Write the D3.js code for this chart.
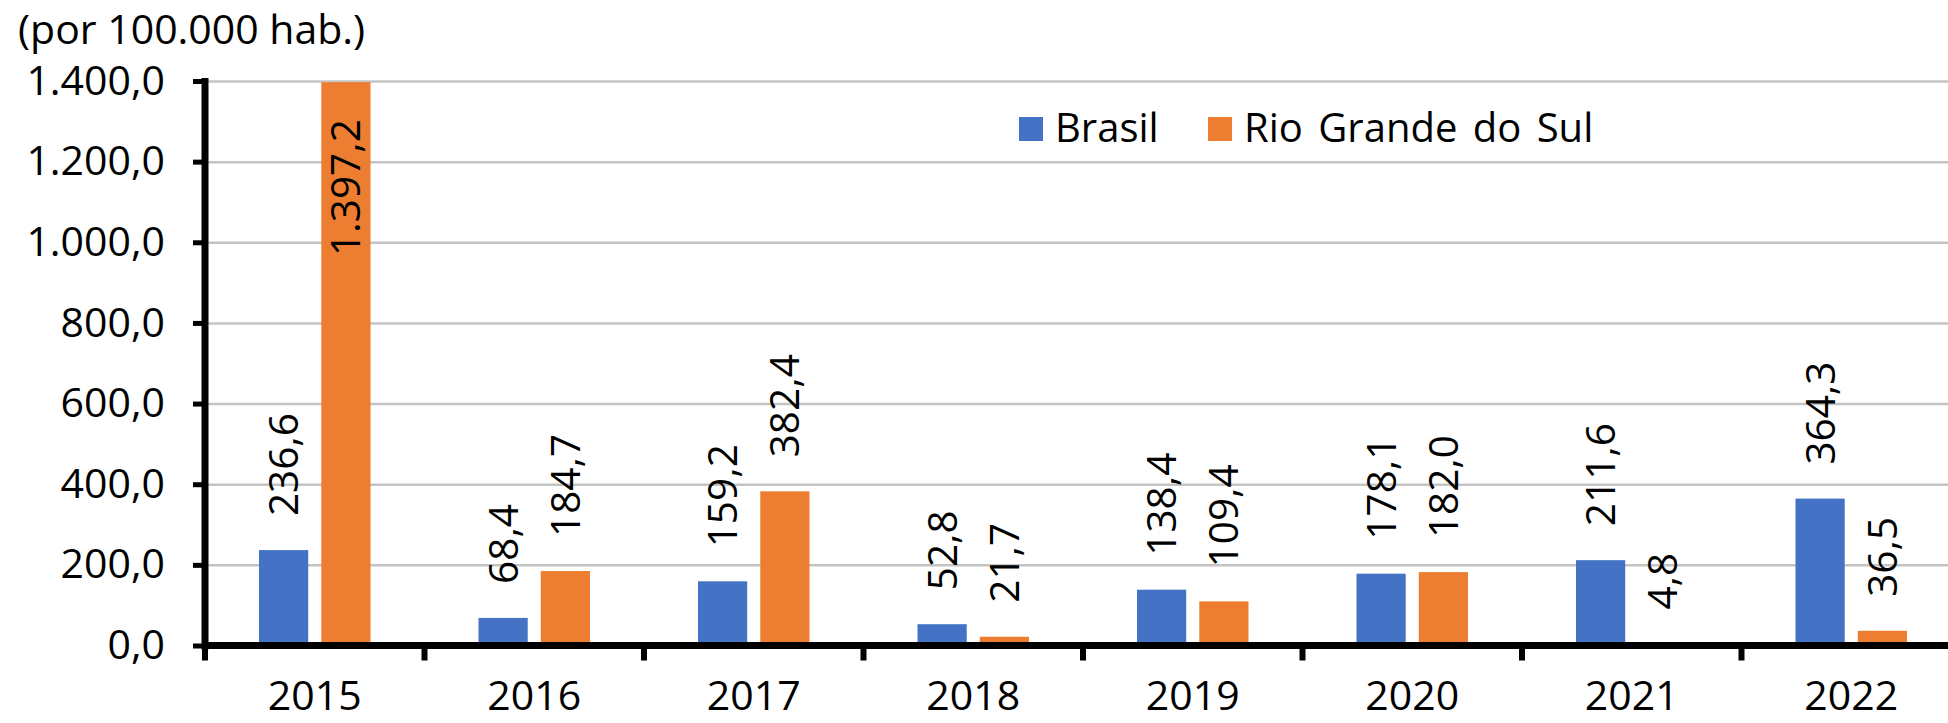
<!DOCTYPE html>
<html>
<head>
<meta charset="utf-8">
<script src="https://cdn.jsdelivr.net/npm/d3@7"></script>
<style>
  body { margin: 0; background: #fff; }
  text { font-family: "Open Sans", "Noto Sans", sans-serif; fill: #000; }
</style>
</head>
<body>
<svg id="chart"></svg>
<script>
const years = ['2015', '2016', '2017', '2018', '2019', '2020', '2021', '2022'];
const series = ['Brasil', 'Rio Grande do Sul'];
const brasil = [236.6, 68.4, 159.2, 52.8, 138.4, 178.1, 211.6, 364.3];
const rgs = [1397.2, 184.7, 382.4, 21.7, 109.4, 182.0, 4.8, 36.5];
const yTicks = [0, 200, 400, 600, 800, 1000, 1200, 1400];
const unitLabel = '(por 100.000 hab.)';

const colors = ['#4472C4', '#ED7D31'];

const width = 1948;
const height = 723;
const plotLeft = 205;
const plotTop = 81;
const plotBottom = 645.5;
const band = 219.5;

const ptBR = d3.formatLocale({decimal: ',', thousands: '.', grouping: [3], currency: ['R$', '']});
const fmt = ptBR.format(',.1f');

const svg = d3.select('#chart')
  .attr('width', width)
  .attr('height', height);

const x0 = d3.scaleBand()
  .domain(years)
  .range([plotLeft, plotLeft + band * years.length])
  .padding(0);

const x1 = d3.scaleBand()
  .domain(series)
  .range([54, band - 54])
  .paddingInner(0.21);

const y = d3.scaleLinear()
  .domain([0, 1400])
  .range([plotBottom, plotTop]);

// gridlines
svg.append('g')
  .attr('transform', `translate(${plotLeft},0)`)
  .call(d3.axisLeft(y).tickValues(yTicks.slice(1)).tickSize(-(width - plotLeft)).tickFormat(''))
  .call(g => g.select('.domain').remove())
  .selectAll('line')
    .attr('stroke', '#c4c4c4')
    .attr('stroke-width', 2.5);

// bars
const data = years.map((yr, i) => ({year: yr, values: [brasil[i], rgs[i]]}));

const groups = svg.append('g').selectAll('g')
  .data(data)
  .join('g')
  .attr('transform', d => `translate(${x0(d.year)},0)`);

groups.selectAll('rect')
  .data(d => d.values.map((v, k) => ({key: series[k], v, k})))
  .join('rect')
  .attr('x', d => x1(d.key))
  .attr('y', d => y(d.v))
  .attr('width', x1.bandwidth())
  .attr('height', d => y(0) - y(d.v))
  .attr('fill', d => colors[d.k]);

// data labels, rotated
groups.selectAll('text')
  .data(d => d.values.map((v, k) => ({key: series[k], v, k})))
  .join('text')
  .style('font-size', '40.5px')
  .attr('dy', '0.36em')
  .text(d => fmt(d.v))
  .each(function (d) {
    const t = d3.select(this);
    const len = this.getComputedTextLength();
    const cx = x1(d.key) + x1.bandwidth() / 2;
    let yy = y(d.v) - 34;
    let anchor = 'start';
    if (yy - len < plotTop - 10) {
      // no room above: put it inside the bar
      yy = y(d.v) + 37;
      anchor = 'end';
    }
    t.attr('text-anchor', anchor)
      .attr('transform', `translate(${cx},${yy}) rotate(-90)`);
  });

// y axis
svg.append('g')
  .attr('transform', `translate(${plotLeft},0)`)
  .call(d3.axisLeft(y).tickValues(yTicks).tickSize(12).tickPadding(28).tickFormat(fmt))
  .call(g => g.select('.domain')
    .attr('stroke', '#000')
    .attr('stroke-width', 7)
    .attr('d', `M0,${plotTop - 3}V${plotBottom + 4}`))
  .call(g => g.selectAll('.tick line').attr('stroke', '#000').attr('stroke-width', 5))
  .call(g => g.selectAll('.tick text')
    .style('font-size', '41px')
    .attr('fill', '#000'));

// x axis: line, boundary ticks and year labels
const xAxis = svg.append('g')
  .attr('transform', `translate(0,${plotBottom})`);

xAxis.call(d3.axisBottom(x0).tickSize(0).tickPadding(35))
  .call(g => g.select('.domain').remove())
  .call(g => g.selectAll('.tick text')
    .style('font-size', '41px')
    .attr('fill', '#000'));

xAxis.append('line')
  .attr('x1', plotLeft - 3)
  .attr('x2', width)
  .attr('y1', 0)
  .attr('y2', 0)
  .attr('stroke', '#000')
  .attr('stroke-width', 7);

xAxis.selectAll('.bound')
  .data(years.concat(['end']))
  .join('line')
  .attr('class', 'bound')
  .attr('x1', d => d === 'end' ? x0.range()[1] : x0(d))
  .attr('x2', d => d === 'end' ? x0.range()[1] : x0(d))
  .attr('y1', 0)
  .attr('y2', 15)
  .attr('stroke', '#000')
  .attr('stroke-width', 6);

// unit label
svg.append('text')
  .attr('x', 18)
  .attr('y', 44)
  .style('font-size', '41px')
  .text(unitLabel);

// legend
const legendX = [1019, 1208];
const legend = svg.append('g')
  .selectAll('g')
  .data(series)
  .join('g')
  .attr('transform', (d, i) => `translate(${legendX[i]},117)`);

legend.append('rect')
  .attr('width', 24)
  .attr('height', 24)
  .attr('fill', (d, i) => colors[i]);

legend.append('text')
  .attr('x', 36)
  .attr('y', 25)
  .style('font-size', '40px')
  .style('word-spacing', '5px')
  .text(d => d);
</script>
</body>
</html>
